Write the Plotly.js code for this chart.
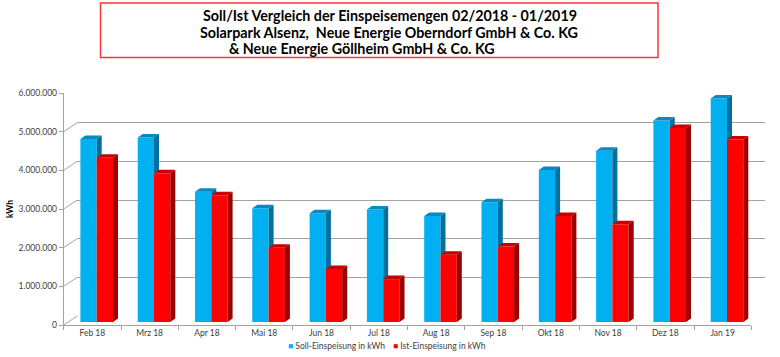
<!DOCTYPE html>
<html><head><meta charset="utf-8">
<script src="https://cdn.plot.ly/plotly-3.0.1.min.js"></script>
<style>html,body{margin:0;padding:0;background:#fff}#chart{width:780px;height:357px}</style>
</head><body><div id="chart"></div>
<script>
// ---- data ----
const categories = ['Feb 18','Mrz 18','Apr 18','Mai 18','Jun 18','Jul 18','Aug 18','Sep 18','Okt 18','Nov 18','Dez 18','Jan 19'];
const sollValues = [4730000, 4770000, 3370000, 2940000, 2810000, 2910000, 2740000, 3100000, 3930000, 4430000, 5210000, 5780000];
const istValues  = [4250000, 3850000, 3280000, 1920000, 1370000, 1110000, 1740000, 1950000, 2740000, 2530000, 5020000, 4720000];
const yTickValues = [0, 1000000, 2000000, 3000000, 4000000, 5000000, 6000000];
const seriesNames = ['Soll-Einspeisung in kWh', 'Ist-Einspeisung in kWh'];
const titleLines = ['Soll/Ist Vergleich der Einspeisemengen 02/2018 - 01/2019',
                    'Solarpark Alsenz,  Neue Energie Oberndorf GmbH &amp; Co. KG',
                    '&amp; Neue Energie Göllheim GmbH &amp; Co. KG'];
const yAxisTitle = 'kWh';

// ---- geometry / style (pixels) ----
const W = 780, H = 357;
const FX0 = 63.7, FX1 = 751.3, FY0 = 325, FY1 = 93;   // front frame
const DX = 13.5, DY = 9;                              // back wall depth
const BX = 4.35, BY = 3;                              // bar front depth
const CAP_DX = 5, CAP_DY = 3.5;                       // bar extrusion
const BAR_W_PX = 16.3;
const YMAX = 6000000;
const px = x => x / W, py = y => 1 - y / H;
const catPx = (FX1 - FX0) / categories.length;
const unitPx = (FY0 - FY1) / YMAX;
const barW = BAR_W_PX / catPx;
const dxu = CAP_DX / catPx, dyv = CAP_DY / unitPx;
const FONT = 'Lato, "Open Sans", sans-serif';
const GRID = '#a3a3a3';
const COLORS = {soll: '#00B0F0', sollTop: '#0a88c2', sollSide: '#00719f',
                ist: '#FF0000', istTop: '#c80000', istSide: '#9c0000'};

const idx = categories.map((c, i) => i);

// polygons for 3D extrusion
function polys(list) {
  const xs = [], ys = [];
  list.forEach(p => { p.forEach(q => { xs.push(q[0]); ys.push(q[1]); }); xs.push(null); ys.push(null); });
  return {xs, ys};
}
const sollTop = polys(idx.map(i => [[i - barW, sollValues[i]], [i - barW + dxu, sollValues[i] + dyv], [i + dxu, sollValues[i] + dyv], [i, sollValues[i]]]));
const sollSide = polys(idx.map(i => [[i, istValues[i]], [i + dxu, istValues[i]], [i + dxu, sollValues[i] + dyv], [i, sollValues[i]]]));
const istTop = polys(idx.map(i => [[i, istValues[i]], [i + dxu, istValues[i] + dyv], [i + barW + dxu, istValues[i] + dyv], [i + barW, istValues[i]]]));
const istSide = polys(idx.map(i => [[i + barW, 0], [i + barW + dxu, dyv], [i + barW + dxu, istValues[i] + dyv], [i + barW, istValues[i]]]));

function poly(p, color) {
  return {type: 'scatter', mode: 'lines', x: p.xs, y: p.ys, fill: 'toself', fillcolor: color,
          line: {width: 0, color: color}, xaxis: 'x2', yaxis: 'y2', hoverinfo: 'skip', showlegend: false};
}

// frame connectors (front axis -> back wall), in front-axis units
const cdx = DX / catPx, cdy = DY / unitPx;
const conX = [], conY = [];
yTickValues.forEach(v => { conX.push(-0.5, -0.5 + cdx, null); conY.push(v, v + cdy, null); });
conX.push(categories.length - 0.5, categories.length - 0.5 + cdx); conY.push(0, cdy);

const traces = [
  {type: 'scatter', mode: 'lines', x: [-0.5, 11.5], y: [0, 0], xaxis: 'x', yaxis: 'y', line: {width: 0}, hoverinfo: 'skip', showlegend: false},
  {type: 'bar', name: seriesNames[0], x: idx, y: sollValues, offset: -barW, width: barW, marker: {color: COLORS.soll, line: {width: 0}}, xaxis: 'x2', yaxis: 'y2', showlegend: false},
  poly(sollTop, COLORS.sollTop),
  poly(sollSide, COLORS.sollSide),
  {type: 'bar', name: seriesNames[1], x: idx, y: istValues, offset: 0, width: barW, marker: {color: COLORS.ist, line: {width: 0}}, xaxis: 'x2', yaxis: 'y2', showlegend: false},
  poly(istTop, COLORS.istTop),
  poly(istSide, COLORS.istSide),
  {type: 'scatter', mode: 'lines', x: conX, y: conY, xaxis: 'x3', yaxis: 'y3', line: {color: GRID, width: 1}, cliponaxis: false, hoverinfo: 'skip', showlegend: false}
];

const annotations = [
  {text: titleLines[0], x: px(390), y: py(15.5)},
  {text: titleLines[1], x: px(389), y: py(32)},
  {text: titleLines[2], x: px(362), y: py(48.5)}
].map(a => Object.assign(a, {xref: 'paper', yref: 'paper', xanchor: 'center', yanchor: 'middle', showarrow: false,
  font: {family: FONT, size: 14.3, color: '#000', weight: 'bold'}}));

annotations.push(
  {text: '<span style="color:' + COLORS.soll + '">■</span> ' + seriesNames[0], x: px(286), y: py(345.5), xanchor: 'left'},
  {text: '<span style="color:' + COLORS.ist + '">■</span> ' + seriesNames[1], x: px(391), y: py(345.5), xanchor: 'left'}
);
annotations.slice(3).forEach(a => Object.assign(a, {xref: 'paper', yref: 'paper', yanchor: 'middle', showarrow: false,
  font: {family: FONT, size: 8.5, color: '#404040'}}));

const hidden = {visible: false, showgrid: false, zeroline: false, fixedrange: true};
const layout = {
  width: W, height: H, margin: {l: 0, r: 0, t: 0, b: 0},
  paper_bgcolor: '#fff', plot_bgcolor: 'rgba(0,0,0,0)',
  separators: ',.', showlegend: false,
  xaxis: Object.assign({}, hidden, {domain: [px(FX0 + DX), px(FX1 + DX)], range: [-0.5, 11.5], anchor: 'y'}),
  yaxis: {domain: [py(FY0 - DY), py(FY1 - DY)], range: [0, YMAX], anchor: 'x', showgrid: true, gridcolor: GRID, gridwidth: 1,
          tickvals: yTickValues, showticklabels: false, ticks: '', zeroline: false, showline: false, fixedrange: true},
  xaxis2: Object.assign({}, hidden, {domain: [px(FX0 + BX), px(FX1 + BX)], range: [-0.5, 11.5], anchor: 'y2'}),
  yaxis2: Object.assign({}, hidden, {domain: [py(FY0 - BY), py(FY1 - BY)], range: [0, YMAX], anchor: 'x2'}),
  xaxis3: {domain: [px(FX0), px(FX1)], range: [-0.5, 11.5], anchor: 'y3', tickvals: idx, ticktext: categories,
           ticks: '', showline: true, linecolor: GRID, linewidth: 1, showgrid: false, zeroline: false,
           minor: {tick0: -0.5, dtick: 1, ticks: 'outside', ticklen: 4, tickcolor: GRID},
           tickfont: {family: FONT, size: 8.5, color: '#404040'}, fixedrange: true},
  yaxis3: {domain: [py(FY0), py(FY1)], range: [0, YMAX], anchor: 'x3', tickvals: yTickValues, tickformat: ',d',
           ticks: 'outside', ticklen: 4, tickcolor: GRID, showline: true, linecolor: GRID, linewidth: 1,
           showgrid: false, zeroline: false, tickfont: {family: FONT, size: 8.5, color: '#404040'},
           title: {text: yAxisTitle, font: {family: FONT, size: 8.5, color: '#000', weight: 'bold'}, standoff: 3}, fixedrange: true},
  shapes: [{type: 'rect', xref: 'paper', yref: 'paper', x0: px(100.5), x1: px(658), y0: py(57.5), y1: py(3),
            line: {color: '#ff3333', width: 1.5}, fillcolor: 'rgba(0,0,0,0)'}],
  annotations: annotations
};

Plotly.newPlot('chart', traces, layout, {displayModeBar: false, staticPlot: true});
</script></body></html>
